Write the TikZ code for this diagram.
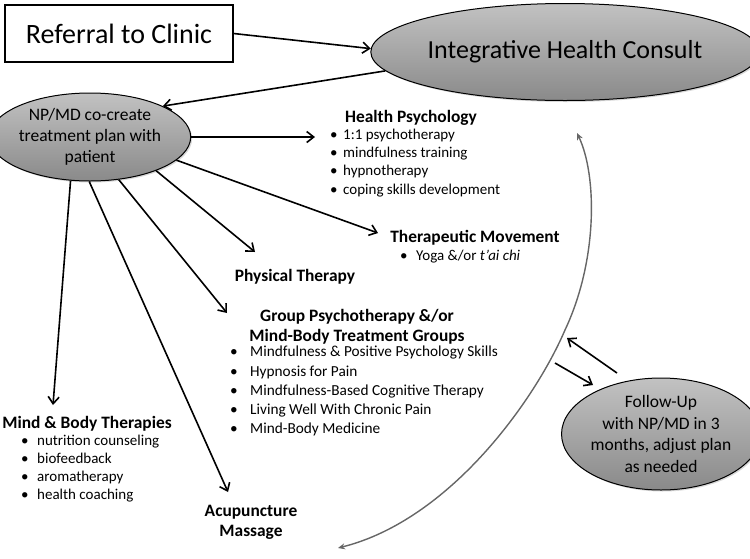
\documentclass[tikz,border=0pt]{standalone}
\usepackage{fontspec}
\setmainfont{Carlito}
\usetikzlibrary{arrows.meta,shapes.geometric,shadows}
\newcommand\fs[1]{\fontsize{#1}{#1}\selectfont}
\tikzset{
  x=1pt, y=-1pt,
  bubble/.style={ellipse, draw=black, line width=1pt, top color=black!24, bottom color=black!46,
     drop shadow={shadow xshift=1.5pt, shadow yshift=-1.5pt, fill=black!30}, inner sep=0pt, align=center},
  arr/.style={-{Straight Barb[length=7pt,width=11pt,line width=1.6pt]}, line width=1.6pt, black},
  curvearr/.style={{Stealth[length=7pt,width=6pt]}-{Stealth[length=7pt,width=6pt]}, line width=1.4pt, black!60},
  title/.style={font=\fs{17.4}\bfseries, inner sep=0pt},
  item/.style={anchor=west, inner sep=0pt, text height=0.7em, text depth=0.25em},
}
\begin{document}
\begin{tikzpicture}
\useasboundingbox (0,0) rectangle (750,558);
% main nodes
\node[draw, line width=1.3pt, minimum width=228, minimum height=57, inner sep=0pt, font=\fs{28}] (ref) at (119,33.5) {Referral to Clinic};
\node[bubble, minimum width=336, minimum height=97, font=\fs{26}] (ihc) at (565,52) {Integrative Health Consult};
\node[bubble, minimum width=172, minimum height=88, font=\fontsize{17.5}{21}\selectfont] (np) at (90,137) {NP/MD co-create\\treatment plan with\\patient};
\node[bubble, minimum width=172, minimum height=112, font=\fontsize{17.5}{21.5}\selectfont] (fu) at (661,434) {Follow-Up\\with NP/MD in 3\\months, adjust plan\\as needed};

% Health Psychology
\node[title] (hpt) at (411,118) {Health Psychology};
\foreach \t [count=\i] in {1:1 psychotherapy, mindfulness training, hypnotherapy, coping skills development} {
  \node[item, font=\fs{15}] (hpb\i) at (330,119+18.2*\i) {\makebox[13pt][l]{•}\t};
}
% Therapeutic Movement
\node[title] (tmt) at (475,238) {Therapeutic Movement};
\node[item, font=\fs{15}] (tmb) at (400,258) {\makebox[16pt][l]{•}Yoga \&/or \textit{t’ai chi}};
% Physical Therapy
\node[title] (ptt) at (295,277) {Physical Therapy};
% Group
\node[title, align=center, font=\fontsize{17.4}{20}\selectfont\bfseries] (grt) at (357,327) {Group Psychotherapy \&/or\\Mind-Body Treatment Groups};
\foreach \t [count=\i] in {Mindfulness \& Positive Psychology Skills, Hypnosis for Pain, Mindfulness-Based Cognitive Therapy, Living Well With Chronic Pain, Mind-Body Medicine} {
  \node[item, font=\fs{15.3}] (grb\i) at (230,335.5+19.2*\i) {\makebox[20pt][l]{•}\t};
}
% Mind & Body
\node[title] (mbt) at (87,424) {Mind \& Body Therapies};
\foreach \t [count=\i] in {nutrition counseling, biofeedback, aromatherapy, health coaching} {
  \node[item, font=\fs{15}] (mbb\i) at (21,425+18*\i) {\makebox[16pt][l]{•}\t};
}
% Acupuncture
\node[title, align=center, font=\fontsize{17.4}{20}\selectfont\bfseries] (acu) at (251,522) {Acupuncture\\Massage};

% arrow ends
\coordinate (hpE) at (315,137);
\coordinate (tmE) at (378,233);
\coordinate (ptE) at (255,252);
\coordinate (grE) at (227,313);
\coordinate (mbE) at (53,405);
\coordinate (acE) at (228,492);
\coordinate (f1s) at (617,373);
\coordinate (f1e) at (567,338);
\coordinate (f2s) at (555,363);
\coordinate (f2e) at (593,385);
\coordinate (cTop) at (577,133);
\coordinate (cMid) at (565,330);
\coordinate (cBot) at (338,548);

% connectors
\draw[arr] (ref.east) -- (ihc.179);
\draw[arr] (ihc.186) -- (np.23);
\draw[arr] (np.east) -- (hpE);
\draw[arr] (np.345) -- (tmE);
\draw[arr] (np.333) -- (ptE);
\draw[arr] (np.304) -- (grE);
\draw[arr] (np.246) -- (mbE);
\draw[arr] (np.269) -- (acE);
\draw[arr] (f1s) -- (f1e);
\draw[arr] (f2s) -- (f2e);
\draw[curvearr] (cTop) .. controls (597,175) and (598,260) .. (cMid) .. controls (535,400) and (450,520) .. (cBot);
\end{tikzpicture}
\end{document}
